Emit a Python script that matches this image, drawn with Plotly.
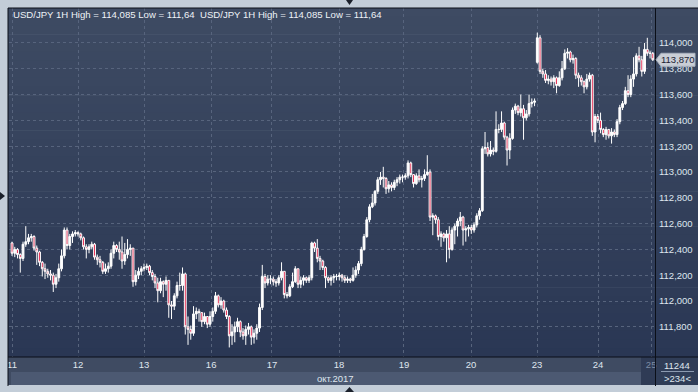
import plotly.graph_objects as go

# ---------------- data ----------------
title_text = "USD/JPY 1H High = 114,085 Low = 111,64"
day_labels = ["11", "12", "13", "16", "17", "18", "19", "20", "23", "24", "25"]
day_pos = [0, 24, 48, 72.4, 94.5, 118.9, 142.5, 166.9, 190.9, 213.1, 232.4]
month_label = "окт.2017"
last_price = 113.87
ytick_vals = [111.8, 112.0, 112.2, 112.4, 112.6, 112.8, 113.0, 113.2, 113.4, 113.6, 113.8, 114.0]

first_open = 112.45
gap_opens = {191: 113.85}

close_11 = [112.37, 112.40, 112.36, 112.33, 112.44, 112.46, 112.49, 112.50, 112.41, 112.38, 112.30, 112.25,
            112.23, 112.21, 112.20, 112.13, 112.18, 112.25, 112.35, 112.55, 112.43, 112.50, 112.52, 112.53]
high_11 = [112.46, 112.42, 112.41, 112.37, 112.46, 112.58, 112.52, 112.52, 112.51, 112.43, 112.39, 112.31,
           112.29, 112.25, 112.24, 112.22, 112.21, 112.29, 112.40, 112.57, 112.57, 112.52, 112.54, 112.55]
low_11 = [112.35, 112.34, 112.33, 112.22, 112.31, 112.42, 112.44, 112.46, 112.39, 112.28, 112.27, 112.19,
          112.17, 112.18, 112.16, 112.07, 112.10, 112.15, 112.23, 112.33, 112.40, 112.40, 112.45, 112.50]

close_12 = [112.52, 112.49, 112.42, 112.40, 112.42, 112.44, 112.34, 112.32, 112.30, 112.23, 112.25, 112.27,
            112.37, 112.43, 112.40, 112.38, 112.31, 112.36, 112.40, 112.41, 112.15, 112.20, 112.23, 112.25]
high_12 = [112.54, 112.53, 112.50, 112.44, 112.44, 112.46, 112.45, 112.36, 112.35, 112.31, 112.29, 112.30,
           112.40, 112.46, 112.44, 112.46, 112.50, 112.45, 112.48, 112.44, 112.41, 112.24, 112.26, 112.27]
low_12 = [112.50, 112.47, 112.40, 112.33, 112.37, 112.40, 112.32, 112.28, 112.26, 112.21, 112.21, 112.22,
          112.25, 112.33, 112.38, 112.32, 112.25, 112.28, 112.33, 112.35, 112.11, 112.12, 112.17, 112.20]

close_13 = [112.26, 112.27, 112.22, 112.19, 112.14, 112.08, 112.15, 112.13, 112.16, 111.97, 111.96, 112.04,
            112.12, 112.12, 112.21, 111.80, 111.78, 111.75, 111.90, 111.92, 111.91, 111.84, 111.88, 111.82]
high_13 = [112.29, 112.29, 112.28, 112.24, 112.21, 112.18, 112.18, 112.16, 112.19, 112.16, 112.00, 112.06,
           112.15, 112.22, 112.26, 112.22, 111.88, 111.81, 111.96, 111.95, 111.94, 111.91, 111.91, 111.88]
low_13 = [112.23, 112.24, 112.20, 112.16, 112.10, 111.99, 112.06, 112.03, 112.08, 111.87, 111.86, 111.93,
          112.02, 112.08, 112.08, 111.74, 111.66, 111.70, 111.73, 111.86, 111.84, 111.80, 111.82, 111.79]

close_16 = [111.88, 111.92, 112.04, 111.97, 112.00, 111.93, 111.88, 111.73, 111.76, 111.80, 111.84,
            111.76, 111.73, 111.78, 111.80, 111.72, 111.75, 111.79, 111.95, 112.19, 112.14, 112.17]
high_16 = [111.92, 111.95, 112.07, 112.05, 112.03, 112.01, 111.95, 111.89, 111.82, 111.84, 111.87,
           111.85, 111.79, 111.81, 111.83, 111.81, 111.78, 111.82, 111.98, 112.28, 112.21, 112.20]
low_16 = [111.80, 111.84, 111.90, 111.95, 111.94, 111.91, 111.86, 111.64, 111.66, 111.68, 111.76,
          111.72, 111.70, 111.66, 111.74, 111.66, 111.67, 111.70, 111.76, 111.93, 112.10, 112.12]

close_17 = [112.17, 112.15, 112.14, 112.18, 112.23, 112.05, 112.04, 112.11, 112.15, 112.25, 112.13, 112.16,
            112.18, 112.16, 112.18, 112.45, 112.41, 112.33, 112.31, 112.26, 112.18, 112.16, 112.18, 112.19, 112.19]
high_17 = [112.20, 112.19, 112.17, 112.20, 112.30, 112.23, 112.07, 112.13, 112.22, 112.27, 112.25, 112.19,
           112.20, 112.19, 112.20, 112.46, 112.46, 112.48, 112.35, 112.32, 112.27, 112.19, 112.20, 112.21, 112.21]
low_17 = [112.13, 112.12, 112.11, 112.12, 112.16, 112.02, 112.02, 112.03, 112.10, 112.14, 112.10, 112.10,
          112.12, 112.14, 112.14, 112.16, 112.38, 112.30, 112.24, 112.24, 112.10, 112.14, 112.12, 112.14, 112.16]

close_18 = [112.20, 112.18, 112.16, 112.17, 112.16, 112.20, 112.24, 112.29, 112.40, 112.50, 112.63, 112.73,
            112.76, 112.85, 112.94, 112.96, 112.95, 112.87, 112.90, 112.88, 112.92, 112.94, 112.96]
high_18 = [112.22, 112.21, 112.20, 112.19, 112.18, 112.26, 112.27, 112.31, 112.42, 112.52, 112.65, 112.75,
           112.83, 112.86, 112.96, 113.00, 113.04, 112.96, 112.93, 112.92, 112.94, 112.96, 112.98]
low_18 = [112.16, 112.15, 112.14, 112.14, 112.14, 112.15, 112.18, 112.21, 112.27, 112.39, 112.49, 112.61,
          112.72, 112.74, 112.83, 112.90, 112.88, 112.83, 112.84, 112.85, 112.86, 112.89, 112.91]

close_19 = [112.96, 112.97, 113.07, 112.98, 112.91, 112.97, 112.94, 112.95, 112.98, 113.00, 112.65, 112.66,
            112.63, 112.50, 112.52, 112.49, 112.52, 112.40, 112.55, 112.58, 112.62, 112.65, 112.55, 112.56, 112.57]
high_19 = [112.98, 112.99, 113.09, 113.08, 112.98, 112.99, 113.02, 112.97, 113.02, 113.13, 113.02, 112.68,
           112.67, 112.65, 112.54, 112.53, 112.55, 112.58, 112.57, 112.60, 112.64, 112.69, 112.66, 112.58, 112.59]
low_19 = [112.92, 112.94, 112.95, 112.96, 112.88, 112.90, 112.92, 112.88, 112.93, 112.97, 112.62, 112.51,
          112.60, 112.47, 112.42, 112.46, 112.30, 112.33, 112.39, 112.44, 112.50, 112.58, 112.43, 112.46, 112.50]

close_20 = [112.55, 112.59, 112.66, 112.70, 113.18, 113.19, 113.14, 113.17, 113.16, 113.33, 113.33, 113.38,
            113.27, 113.17, 113.26, 113.48, 113.51, 113.46, 113.49, 113.42, 113.45, 113.53, 113.54, 113.55]
high_20 = [112.59, 112.61, 112.68, 112.72, 113.20, 113.31, 113.23, 113.24, 113.19, 113.47, 113.37, 113.47,
           113.39, 113.28, 113.30, 113.50, 113.53, 113.52, 113.60, 113.52, 113.48, 113.60, 113.57, 113.57]
low_20 = [112.52, 112.53, 112.57, 112.63, 112.69, 113.14, 113.12, 113.12, 113.13, 113.15, 113.30, 113.31,
          113.25, 113.05, 113.10, 113.25, 113.45, 113.44, 113.43, 113.25, 113.40, 113.43, 113.50, 113.51]

close_23 = [114.04, 113.78, 113.76, 113.71, 113.72, 113.70, 113.73, 113.67, 113.73, 113.80, 113.92,
            113.93, 113.87, 113.88, 113.75, 113.73, 113.70, 113.66, 113.72, 113.75, 113.31]
high_23 = [114.08, 114.06, 113.80, 113.79, 113.75, 113.74, 113.75, 113.74, 113.78, 113.86, 113.95,
           113.96, 113.94, 113.91, 113.89, 113.77, 113.75, 113.71, 113.76, 113.77, 113.76]
low_23 = [113.84, 113.76, 113.73, 113.69, 113.68, 113.67, 113.65, 113.61, 113.66, 113.71, 113.79,
          113.88, 113.85, 113.84, 113.72, 113.66, 113.67, 113.61, 113.64, 113.70, 113.28]

close_24 = [113.43, 113.40, 113.33, 113.29, 113.33, 113.28, 113.31, 113.29, 113.39, 113.50, 113.53,
            113.63, 113.60, 113.72, 113.76, 113.90, 113.87, 113.78, 113.95, 113.92, 113.92, 113.87]
high_24 = [113.45, 113.45, 113.46, 113.34, 113.35, 113.33, 113.34, 113.33, 113.41, 113.52, 113.55,
           113.66, 113.75, 113.75, 113.89, 113.92, 113.97, 113.90, 114.00, 114.04, 113.94, 113.93]
low_24 = [113.23, 113.38, 113.30, 113.27, 113.25, 113.26, 113.22, 113.27, 113.27, 113.37, 113.48,
          113.52, 113.58, 113.58, 113.66, 113.74, 113.85, 113.74, 113.76, 113.90, 113.88, 113.86]

closes = close_11 + close_12 + close_13 + close_16 + close_17 + close_18 + close_19 + close_20 + close_23 + close_24
highs = high_11 + high_12 + high_13 + high_16 + high_17 + high_18 + high_19 + high_20 + high_23 + high_24
lows = low_11 + low_12 + low_13 + low_16 + low_17 + low_18 + low_19 + low_20 + low_23 + low_24
opens = [first_open] + closes[:-1]
for k, v in gap_opens.items():
    opens[k] = v
bars = list(range(len(closes)))

# ---------------- figure ----------------
W, H = 698, 392
L, R, T, B = 9, 43, 8, 35
PW, PH = W - L - R, H - T - B


def px(x):
    return (x - L) / PW


def py(y):
    return (H - B - y) / PH


FONT = "Liberation Sans, Arial, sans-serif"
TXT = "#dfe6ee"

fig = go.Figure()
fig.add_trace(go.Candlestick(
    x=bars, open=opens, high=highs, low=lows, close=closes,
    increasing=dict(line=dict(color="#ffffff", width=1), fillcolor="#ffffff"),
    decreasing=dict(line=dict(color="#ffffff", width=1), fillcolor="#e3123c"),
    whiskerwidth=0, hoverinfo="skip", showlegend=False,
))

shapes = []
top_c = (62, 75, 99)
bot_c = (42, 55, 84)
n = 40
for i in range(n):
    f = (i + 0.5) / n
    c = tuple(round(top_c[k] + (bot_c[k] - top_c[k]) * f) for k in range(3))
    y0 = 8 + (357 - 8) * i / n
    y1 = 8 + (357 - 8) * (i + 1) / n + 0.6
    shapes.append(dict(type="rect", xref="paper", yref="paper", x0=px(8), x1=px(698),
                       y0=py(y1), y1=py(y0), fillcolor="rgb(%d,%d,%d)" % c,
                       line=dict(width=0), layer="below"))
shapes.append(dict(type="rect", xref="paper", yref="paper", x0=px(8), x1=px(641), y0=py(372), y1=py(357),
                   fillcolor="#3f4b62", line=dict(width=0), layer="below"))
shapes.append(dict(type="rect", xref="paper", yref="paper", x0=px(8), x1=px(641), y0=py(385), y1=py(372),
                   fillcolor="#4c5972", line=dict(width=0), layer="below"))
shapes.append(dict(type="rect", xref="paper", yref="paper", x0=px(8), x1=px(11), y0=py(385), y1=py(372),
                   fillcolor="#3f4b62", line=dict(width=0), layer="below"))
shapes.append(dict(type="rect", xref="paper", yref="paper", x0=px(641), x1=px(655), y0=py(385), y1=py(357),
                   fillcolor="#2f3b55", line=dict(width=0), layer="below"))
shapes.append(dict(type="rect", xref="paper", yref="paper", x0=px(655), x1=px(698), y0=py(385), y1=py(357),
                   fillcolor="#303d57", line=dict(width=0), layer="below"))
shapes.append(dict(type="line", xref="paper", yref="paper", x0=px(661), x1=px(694), y0=py(371.5), y1=py(371.5),
                   line=dict(color="#8c9ab0", width=1), layer="above"))
for (x0, y0, x1, y1) in [(8, 8, 8, 386), (8, 357, 698, 357), (655.5, 8, 655.5, 386), (8, 8, 698, 8)]:
    shapes.append(dict(type="line", xref="paper", yref="paper", x0=px(x0), x1=px(x1), y0=py(y0), y1=py(y1),
                       line=dict(color="#0b0f18", width=1), layer="above"))
tri = [
    [(346, 0), (353, 0), (349.5, 5)],
    [(345, 392), (354, 392), (349.5, 387)],
    [(0, 192), (0, 200), (5, 196)],
]
for pts in tri:
    path = "M " + " L ".join("%f,%f" % (px(a), py(b)) for a, b in pts) + " Z"
    shapes.append(dict(type="path", xref="paper", yref="paper", path=path,
                       fillcolor="#1a1f2a", line=dict(width=0), layer="above"))
lp_y = 43 + (114.0 - last_price) * 129.0
pts = [(656, lp_y), (661, lp_y - 6.5), (695, lp_y - 6.5), (695, lp_y + 6.5), (661, lp_y + 6.5)]
shapes.append(dict(type="path", xref="paper", yref="paper",
                   path="M " + " L ".join("%f,%f" % (px(a), py(b)) for a, b in pts) + " Z",
                   fillcolor="#c9ced6", line=dict(color="#aab2be", width=1), layer="above"))

annotations = [
    dict(text=title_text, x=px(11), y=py(14.5), xref="paper", yref="paper", xanchor="left", yanchor="middle",
         showarrow=False, font=dict(family=FONT, size=9.6, color="#eef2f7")),
    dict(text=title_text, x=px(198), y=py(14.5), xref="paper", yref="paper", xanchor="left", yanchor="middle",
         showarrow=False, font=dict(family=FONT, size=9.6, color="#eef2f7")),
    dict(text=month_label, x=px(335), y=py(378.5), xref="paper", yref="paper", xanchor="center", yanchor="middle",
         showarrow=False, font=dict(family=FONT, size=9.5, color=TXT)),
    dict(text="11244", x=px(677), y=py(365), xref="paper", yref="paper", xanchor="center", yanchor="middle",
         showarrow=False, font=dict(family=FONT, size=9.5, color=TXT)),
    dict(text="&gt;234&lt;", x=px(677), y=py(378.5), xref="paper", yref="paper", xanchor="center",
         yanchor="middle", showarrow=False, font=dict(family=FONT, size=9.5, color=TXT)),
    dict(text=f"{last_price:.3f}".replace(".", ","), x=px(677.5), y=last_price, xref="paper", yref="y",
         xanchor="center", yanchor="middle", showarrow=False, font=dict(family=FONT, size=9.5, color="#1b2233")),
]

ticktext = day_labels[:-1] + ['<span style="color:#7d8ca4">' + day_labels[-1] + '</span>']

fig.update_layout(
    width=W, height=H, margin=dict(l=L, r=R, t=T, b=B, pad=0),
    paper_bgcolor="#c3cdd8", plot_bgcolor="rgba(0,0,0,0)",
    separators=", ", showlegend=False, boxgap=0.05,
    shapes=shapes, annotations=annotations, hovermode=False,
    xaxis=dict(range=[-1.1, 233.8], tickmode="array", tickvals=day_pos, ticktext=ticktext,
               showgrid=True, gridcolor="#57647d", griddash="3px,3px", gridwidth=1,
               zeroline=False, showline=False, ticks="", rangeslider=dict(visible=False),
               tickfont=dict(family=FONT, size=9.5, color=TXT), fixedrange=True, automargin=False),
    yaxis=dict(side="right", range=[111.566, 114.271], tickmode="array", tickvals=ytick_vals,
               tickformat=".3f", showgrid=True, gridcolor="#57647d", griddash="3px,3px", gridwidth=1,
               zeroline=False, showline=False, ticks="", ticklabelstandoff=3,
               tickfont=dict(family=FONT, size=9.5, color=TXT), fixedrange=True, automargin=False),
)

fig.write_html("out.html", config={"displayModeBar": False},
               post_script="document.body.style.margin='0px';document.body.style.overflow='hidden';")
